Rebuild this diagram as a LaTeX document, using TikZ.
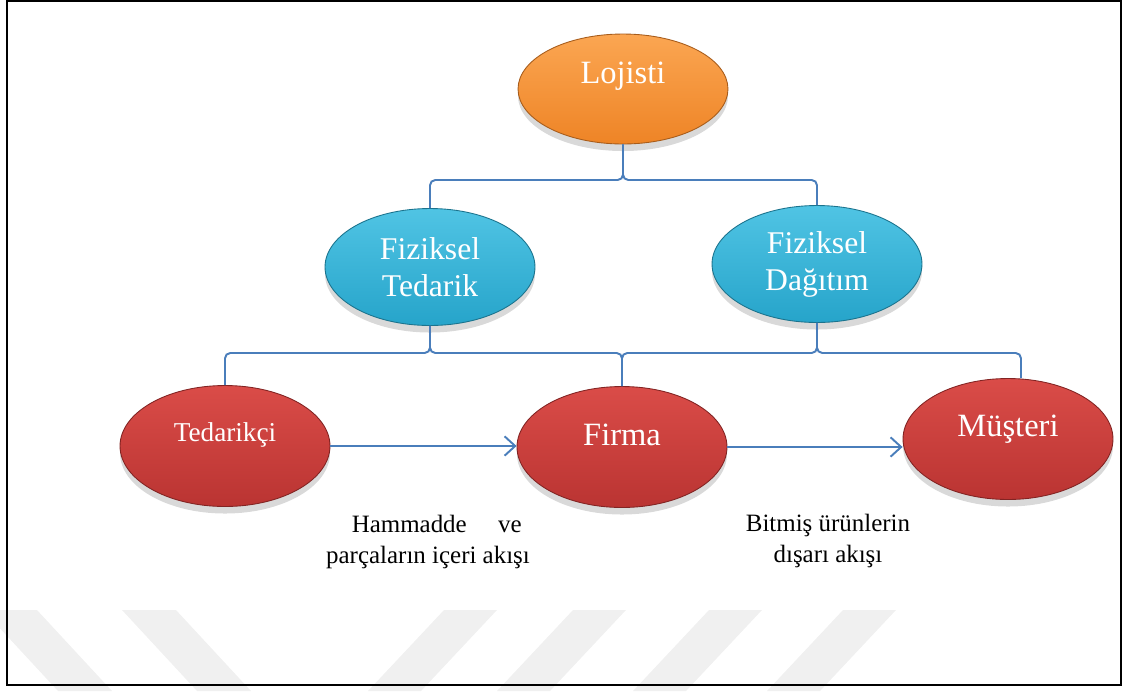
\documentclass[tikz,border=0pt]{standalone}
\usepackage{fontspec}
\setmainfont{Liberation Serif}
\usetikzlibrary{positioning,arrows.meta,shapes.geometric,shadows,calc}
\definecolor{linkblue}{RGB}{74,126,187}
\definecolor{orangetop}{RGB}{251,166,82}
\definecolor{orangebot}{RGB}{238,132,38}
\definecolor{cyantop}{RGB}{80,196,228}
\definecolor{cyanbot}{RGB}{38,164,202}
\definecolor{redtop}{RGB}{218,76,72}
\definecolor{redbot}{RGB}{186,52,50}
\tikzset{
  flowarrow/.style={-{Straight Barb[length=6pt,width=11pt]}, draw=linkblue, line width=1.1pt},
  bracket/.style={draw=linkblue, line width=1.1pt, rounded corners=3pt},
  blob/.style={ellipse, minimum width=4.2cm, inner sep=0pt, text=white, align=center, line width=0.5pt,
    drop shadow={shadow xshift=0pt, shadow yshift=-4pt, opacity=0.3}},
  topblob/.style={blob, minimum height=2.2cm, draw=orangebot!70!black, top color=orangetop, bottom color=orangebot},
  midblob/.style={blob, minimum height=2.34cm, draw=cyanbot!70!black, top color=cyantop, bottom color=cyanbot,
    font=\fontsize{18}{21}\selectfont},
  lowblob/.style={blob, minimum height=2.42cm, draw=redbot!70!black, top color=redtop, bottom color=redbot},
  raised/.style={text height=0.5cm, text depth=#1},
  flowlabel/.style={text=black, font=\fontsize{14.2}{17.6}\selectfont, align=center},
  wmark/.style={fill=black!6}
}
\begin{document}
\begin{tikzpicture}[x=0.02cm, y=-0.02cm, >=Latex, every node/.style={font=\fontsize{18.5}{22}\selectfont}]
  \useasboundingbox (0,0) rectangle (1130,691);
  % faint watermark stripes
  \foreach \x in {-17,122}
    \fill[wmark] (\x,610) -- ++(54,0) -- ++(75,81) -- ++(-54,0) -- cycle;
  \foreach \x in {444,573,709,843}
    \fill[wmark] (\x,610) -- ++(53,0) -- ++(-76,81) -- ++(-53,0) -- cycle;

  \node[topblob, raised=0.71cm] (lojisti) at (623,89) {Lojisti};
  \node[midblob] (tedarik) at (430,267) {Fiziksel\\Tedarik};
  \node[midblob] (dagitim) at (817,264) {Fiziksel\\Dağıtım};
  \node[lowblob, raised=0.7cm, font=\fontsize{15.5}{18}\selectfont] (tedarikci) at (225,446) {Tedarikçi};
  \node[lowblob, raised=0.55cm] (firma) at (622,447) {Firma};
  \node[lowblob, raised=0.6cm] (musteri) at (1008,439) {Müşteri};

  % brace levels
  \coordinate (topbar) at (0,180);
  \coordinate (lowbar) at (0,353);
  \draw[bracket] (tedarik.north) |- (topbar -| lojisti.south) -- (lojisti.south);
  \draw[bracket] (dagitim.north) |- (topbar -| lojisti.south) -- (lojisti.south);
  \draw[bracket] (tedarikci.north) |- (lowbar -| tedarik.south) -- (tedarik.south);
  \draw[bracket] (firma.north) |- (lowbar -| tedarik.south) -- (tedarik.south);
  \draw[bracket] (firma.north) |- (lowbar -| dagitim.south) -- (dagitim.south);
  \draw[bracket] ($(musteri.north)+(13,0)$) |- (lowbar -| dagitim.south) -- (dagitim.south);

  \draw[flowarrow] (tedarikci.east) -- (tedarikci.east -| firma.west);
  \draw[flowarrow] (firma.east) -- (firma.east -| musteri.west);

  \node[flowlabel] (hamlabel) at (428,542) {\hspace*{0.35cm}\makebox[3.4cm]{Hammadde\hfill ve}\\parçaların içeri akışı};
  \node[flowlabel] (bitlabel) at (828,541) {Bitmiş ürünlerin\\dışarı akışı};

  \draw[line width=1.3pt] (7,1) rectangle (1121,685);
\end{tikzpicture}
\end{document}
